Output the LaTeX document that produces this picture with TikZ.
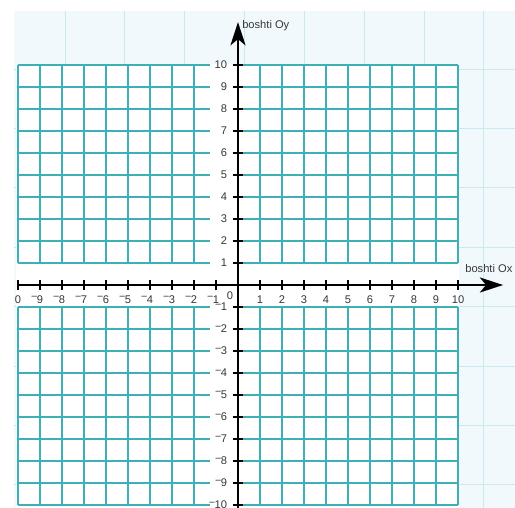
\documentclass[tikz,border=0pt]{standalone}
\usepackage{fontspec}
\setmainfont{Liberation Sans}
\usetikzlibrary{arrows.meta}

\definecolor{gridteal}{RGB}{60,176,182}
\definecolor{bgpale}{RGB}{241,249,252}
\definecolor{bgline}{RGB}{204,232,242}
\definecolor{labelgray}{RGB}{55,55,55}
\newcommand{\mns}{\raisebox{0.65ex}{\scalebox{0.85}[1]{--}}}

\begin{document}
\begin{tikzpicture}[x=0.5cm, y=0.5cm,
  every node/.style={font=\fontsize{7.2}{8.6}\selectfont, text=labelgray},
  gridline/.style={gridteal, line width=0.95pt},
  axisline/.style={black, line width=1.6pt,
    -{Stealth[length=15pt, width=9.7pt, inset=4pt]}},
  tickline/.style={black, line width=1.3pt}]
  \useasboundingbox (-10.818,-10.136) rectangle (12.591,12.955);

  % Background paper
  \fill[bgpale] (-10.18,-10.136) rectangle (12.591,12.455);
  \foreach \k in {0,...,7}
    \draw[bgline, line width=0.5pt] ({-7.864+2.72*\k},-10.136) -- ({-7.864+2.72*\k},12.455);
  \foreach \k in {0,...,7}
    \draw[bgline, line width=0.5pt] (-10.18,{9.818-2.7*\k}) -- (12.591,{9.818-2.7*\k});

  % White sheet under the grids
  \fill[white] (-10.1,-10.3) rectangle (10.05,10.05);

  % Grids (four quarters)
  \foreach \s in {1,-1} {
    \foreach \i in {1,...,10} {
      \draw[gridline] (-10,\s*\i) -- (-1.27,\s*\i);
      \draw[gridline] (0.23,\s*\i) -- (10,\s*\i);
    }
    \foreach \i in {2,...,10}
      \draw[gridline] (-\i,\s) -- (-\i,10*\s);
    \foreach \i in {1,...,10}
      \draw[gridline] (\i,\s) -- (\i,10*\s);
  }

  % Axes
  \draw[axisline] (-10.05,0) -- (12.05,0);
  \draw[axisline] (0,-10.4) -- (0,11.95);

  % Ticks
  \foreach \i in {-10,...,-1,1,2,...,10} {
    \draw[tickline] (\i,-0.23) -- (\i,0.23);
    \draw[tickline] (-0.23,\i) -- (0.23,\i);
  }

  % Labels on Ox
  \node[below] (xlab0) at (-10,-0.23) {0};
  \foreach \i in {1,...,9}
    \node[below] (xlabm\i) at (-\i,-0.23) {\llap{\mns}\i};
  \foreach \i in {1,...,10}
    \node[below] (xlab\i) at (\i,-0.23) {\i};

  % Labels on Oy
  \foreach \i in {1,...,10} {
    \node[left] (ylab\i) at (-0.25,\i) {\i};
    \node[left] (ylabm\i) at (-0.25,-\i) {\mns\i};
  }
  \node (orig) at (-0.36,-0.5) {0};

  % Axis names
  \node[right, inner sep=0pt] (oylab) at (0.18,11.77) {boshti Oy};
  \node[right, inner sep=0pt] (oxlab) at (10.32,0.73) {boshti Ox};
\end{tikzpicture}
\end{document}
